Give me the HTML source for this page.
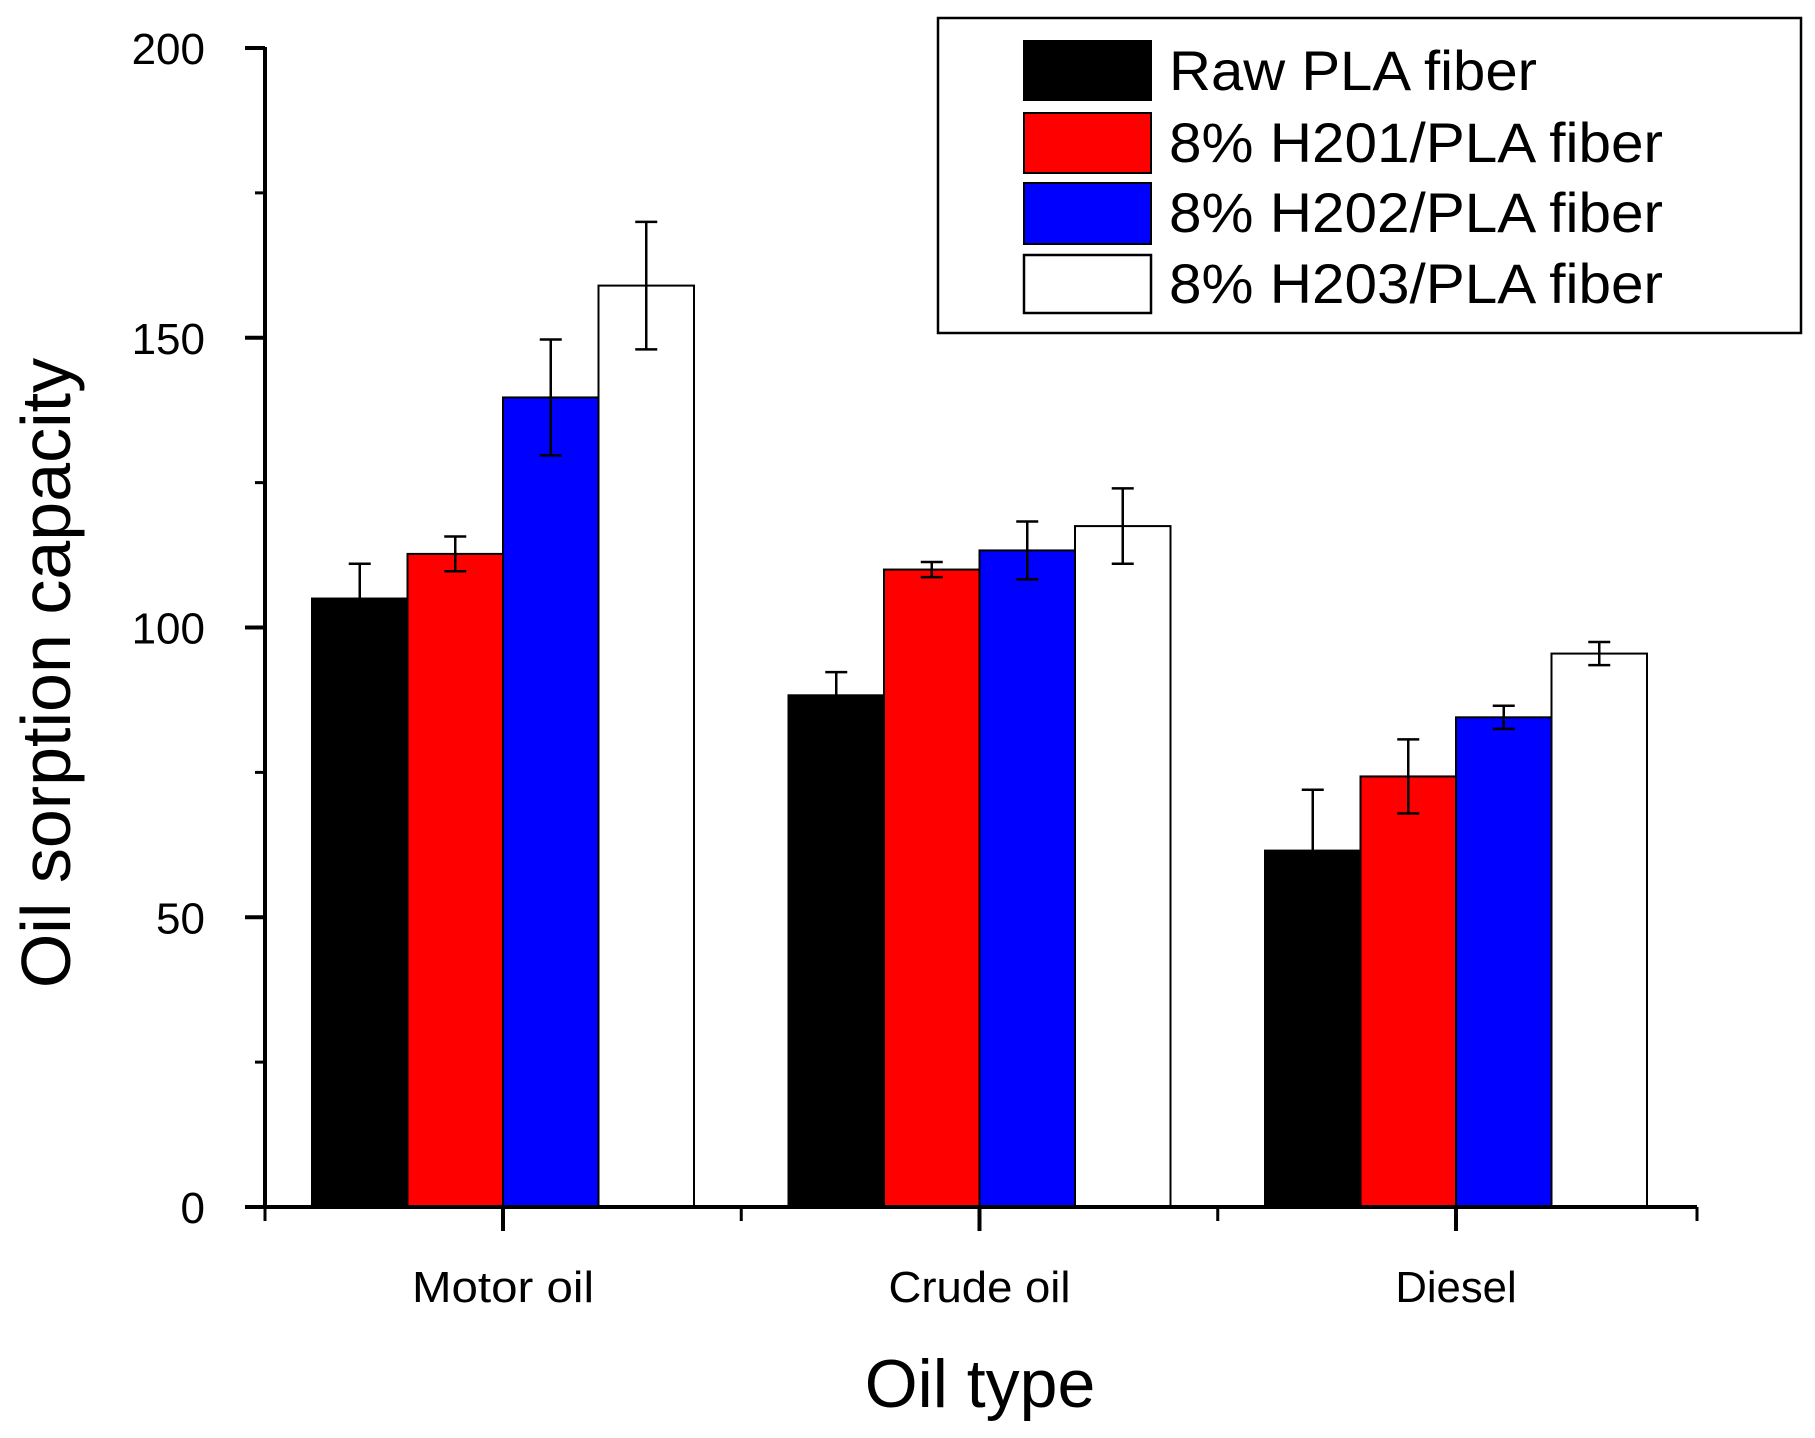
<!DOCTYPE html>
<html><head><meta charset="utf-8"><style>
html,body{margin:0;padding:0;background:#fff;}
svg{display:block;font-family:"Liberation Sans",Arial,sans-serif;}
</style></head><body>
<svg id="chart" width="1815" height="1438" viewBox="0 0 1815 1438" xmlns="http://www.w3.org/2000/svg">
<g id="bars"></g>
<g id="axes"></g>
<g>
  <rect x="938" y="18" width="863" height="315" fill="#fff" stroke="#000" stroke-width="2.5"/>
  <rect x="1024" y="41" width="127" height="59" fill="#000" stroke="#000" stroke-width="2"/>
  <text x="1169" y="90" font-size="56" textLength="368" lengthAdjust="spacingAndGlyphs">Raw PLA fiber</text>
  <rect x="1024" y="113" width="127" height="60" fill="#f00" stroke="#000" stroke-width="2"/>
  <text x="1169" y="162" font-size="56" textLength="494" lengthAdjust="spacingAndGlyphs">8% H201/PLA fiber</text>
  <rect x="1024" y="183" width="127" height="61" fill="#00f" stroke="#000" stroke-width="2"/>
  <text x="1169" y="232" font-size="56" textLength="494" lengthAdjust="spacingAndGlyphs">8% H202/PLA fiber</text>
  <rect x="1024" y="255" width="127" height="58" fill="#fff" stroke="#000" stroke-width="2.5"/>
  <text x="1169" y="303" font-size="56" textLength="494" lengthAdjust="spacingAndGlyphs">8% H203/PLA fiber</text>
</g>
<text x="980" y="1407" font-size="68" text-anchor="middle">Oil type</text>
<text transform="translate(70,673) rotate(-90)" font-size="70" text-anchor="middle">Oil sorption capacity</text>
</svg>
<script>
const categories = ["Motor oil", "Crude oil", "Diesel"];
const seriesNames = ["Raw PLA fiber", "8% H201/PLA fiber", "8% H202/PLA fiber", "8% H203/PLA fiber"];
const rawValues  = [105, 88.3, 61.5];
const h201Values = [112.7, 110, 74.3];
const h202Values = [139.7, 113.3, 84.5];
const h203Values = [159, 117.5, 95.5];
const rawErr  = [6, 4, 10.5];
const h201Err = [3, 1.3, 6.4];
const h202Err = [10, 5, 2];
const h203Err = [11, 6.5, 2];
const yTicks = [0, 50, 100, 150, 200];
const yMinorTicks = [25, 75, 125, 175];

const NS = "http://www.w3.org/2000/svg";
const values = [rawValues, h201Values, h202Values, h203Values];
const errs = [rawErr, h201Err, h202Err, h203Err];
const fills = ["#000", "#f00", "#00f", "#fff"];
const X0 = 265, XEND = 1697, Y0 = 1207, Y200 = 48;
const groupStart = 503, groupStep = 476.5, barW = 95.5;
function yScale(v){ return Y0 - (v / 200) * (Y0 - Y200); }
function xCenter(i){ return groupStart + i * groupStep; }
function mk(tag, attrs, parent){
  const el = document.createElementNS(NS, tag);
  for (const k in attrs) el.setAttribute(k, attrs[k]);
  parent.appendChild(el);
  return el;
}
const bars = document.getElementById("bars");
const axes = document.getElementById("axes");
categories.forEach((c, i) => {
  values.forEach((vals, s) => {
    const x = xCenter(i) - 2 * barW + s * barW;
    const y = yScale(vals[i]);
    const r = mk("rect", {x: x, y: y, width: barW, height: Y0 - y, fill: fills[s], stroke: "#000", "stroke-width": 2}, bars);
    
    
    const cx = x + barW / 2;
    const yt = yScale(vals[i] + errs[s][i]), yb = yScale(vals[i] - errs[s][i]);
    const g = mk("g", {stroke: "#000", "stroke-width": 2.5}, bars);
    
    
    mk("line", {x1: cx, x2: cx, y1: yt, y2: yb}, g);
    mk("line", {x1: cx - 11, x2: cx + 11, y1: yt, y2: yt}, g);
    mk("line", {x1: cx - 11, x2: cx + 11, y1: yb, y2: yb}, g);
  });
  const t = mk("line", {x1: xCenter(i), x2: xCenter(i), y1: Y0, y2: Y0 + 24, stroke: "#000", "stroke-width": 4}, axes);
  
  
  const lbl = mk("text", {x: xCenter(i), y: 1302, "font-size": 44, "text-anchor": "middle", textLength: 182 * c.length / 9, lengthAdjust: "spacingAndGlyphs"}, axes);
  lbl.textContent = c;
  
  
  if (i < categories.length - 1) {
    const m = mk("line", {x1: xCenter(i) + groupStep / 2, x2: xCenter(i) + groupStep / 2, y1: Y0, y2: Y0 + 14, stroke: "#000", "stroke-width": 3}, axes);
    
    
  }
});
const ya = mk("line", {x1: X0, x2: X0, y1: Y200 - 1, y2: Y0 + 2, stroke: "#000", "stroke-width": 4}, axes);


const xa = mk("line", {x1: 246, x2: XEND, y1: Y0, y2: Y0, stroke: "#000", "stroke-width": 4}, axes);


const e1 = mk("line", {x1: X0, x2: X0, y1: Y0, y2: Y0 + 14, stroke: "#000", "stroke-width": 3}, axes);


const e2 = mk("line", {x1: XEND, x2: XEND, y1: Y0, y2: Y0 + 14, stroke: "#000", "stroke-width": 3}, axes);


yTicks.forEach(v => {
  const y = yScale(v);
  const tk = mk("line", {x1: 245, x2: X0, y1: y, y2: y, stroke: "#000", "stroke-width": 4}, axes);
  
  
  const tl = mk("text", {x: 205, y: y + 16, "font-size": 44, "text-anchor": "end"}, axes);
  tl.textContent = v;
  
  
});
yMinorTicks.forEach(v => {
  const y = yScale(v);
  const tk = mk("line", {x1: 255, x2: X0, y1: y, y2: y, stroke: "#000", "stroke-width": 3}, axes);
  
  
});
</script>
</body></html>
